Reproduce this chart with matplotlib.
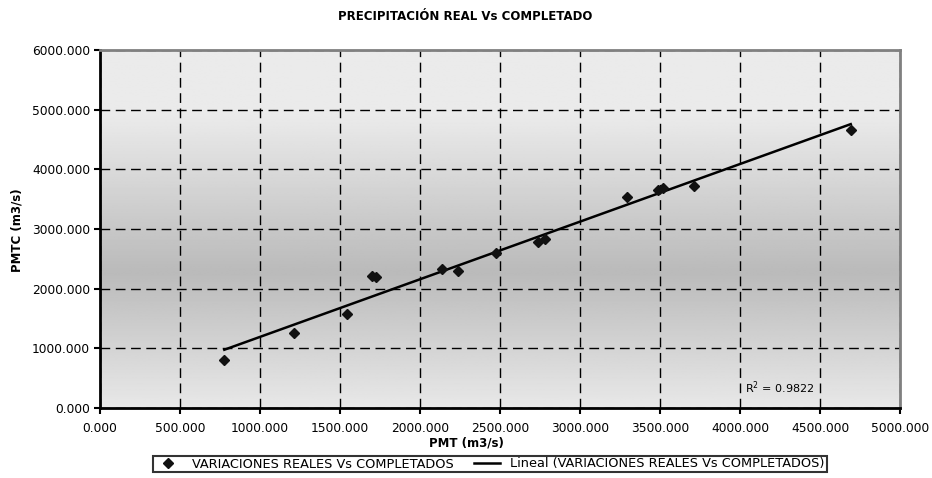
import matplotlib
matplotlib.use("Agg")
import matplotlib.pyplot as plt
import numpy as np

# values
pmt = [777, 1212, 1544, 1700, 1725, 2135, 2240, 2475, 2735, 2780, 3294, 3490, 3520, 3710, 4692]
pmtc = [804, 1251, 1569, 2205, 2190, 2323, 2290, 2601, 2790, 2830, 3540, 3660, 3690, 3719, 4656]
x_ticks = [0, 500, 1000, 1500, 2000, 2500, 3000, 3500, 4000, 4500, 5000]
y_ticks = [0, 1000, 2000, 3000, 4000, 5000, 6000]
r2_text = "R$^{2}$ = 0.9822"
series_label = "VARIACIONES REALES Vs COMPLETADOS"
trend_label = "Lineal (VARIACIONES REALES Vs COMPLETADOS)"

plt.rcParams['font.family'] = ['DejaVu Sans']

fig = plt.figure(figsize=(9.32, 4.78), dpi=100)
ax = fig.add_axes([100 / 932, 1 - 408 / 478, 800 / 932, 358 / 478])
ax.set_xlim(0, 5000)
ax.set_ylim(0, 6000)

# gray gradient background: light at top/bottom, darker a bit below the middle
pos = np.linspace(0, 1, 300)
shade = np.interp(pos, [0.0, 0.38, 0.82, 1.0], [0.91, 0.73, 0.92, 0.92])
grad = np.repeat(shade[:, None], 2, axis=1)
ax.imshow(grad, cmap='gray', vmin=0, vmax=1, origin='lower', aspect='auto',
          extent=[0, 5000, 0, 6000], zorder=0)

ax.grid(True, color='black', linestyle=(0, (7, 4)), linewidth=1.0, zorder=1)

ax.plot(pmt, pmtc, linestyle='none', marker='D', markersize=5.5, color='#111111',
        zorder=3, label=series_label)

coef = np.polyfit(pmt, pmtc, 1)
xs = np.array([min(pmt), max(pmt)])
ax.plot(xs, np.polyval(coef, xs), color='black', linewidth=1.8, zorder=2, label=trend_label)

ax.text(4030, 335, r2_text, fontsize=8, ha='left', va='center', zorder=4)

ax.set_xticks(x_ticks)
ax.set_yticks(y_ticks)
ax.set_xticklabels([f"{v:.3f}" for v in x_ticks])
ax.set_yticklabels([f"{v:.3f}" for v in y_ticks])
ax.tick_params(axis='both', direction='out', length=4, width=1.5, labelsize=8.8, colors='black')
ax.tick_params(axis='x', pad=6)
ax.tick_params(axis='y', pad=3)

for side in ['left', 'bottom']:
    ax.spines[side].set_linewidth(2)
    ax.spines[side].set_color('black')
for side in ['top', 'right']:
    ax.spines[side].set_linewidth(2)
    ax.spines[side].set_color('#808080')

fig.text(0.499, 1 - 16 / 478, "PRECIPITACIÓN REAL Vs COMPLETADO", ha='center', va='center',
         fontsize=8.5, fontweight='bold')
fig.text(0.5, 1 - 443 / 478, "PMT (m3/s)", ha='center', va='center', fontsize=8.5, fontweight='bold')
fig.text(17 / 932, 1 - 230 / 478, "PMTC (m3/s)", ha='center', va='center', rotation=90,
         fontsize=8.5, fontweight='bold')

leg = fig.legend(loc='center', bbox_to_anchor=(490 / 932, 1 - 464 / 478), ncol=2, fontsize=9.3,
                 frameon=True, fancybox=False, borderpad=0.15, handlelength=2.0,
                 handletextpad=0.8, columnspacing=1.6, borderaxespad=0)
leg.get_frame().set_edgecolor('black')
leg.get_frame().set_linewidth(1.5)

fig.savefig("out.png", dpi=100)
